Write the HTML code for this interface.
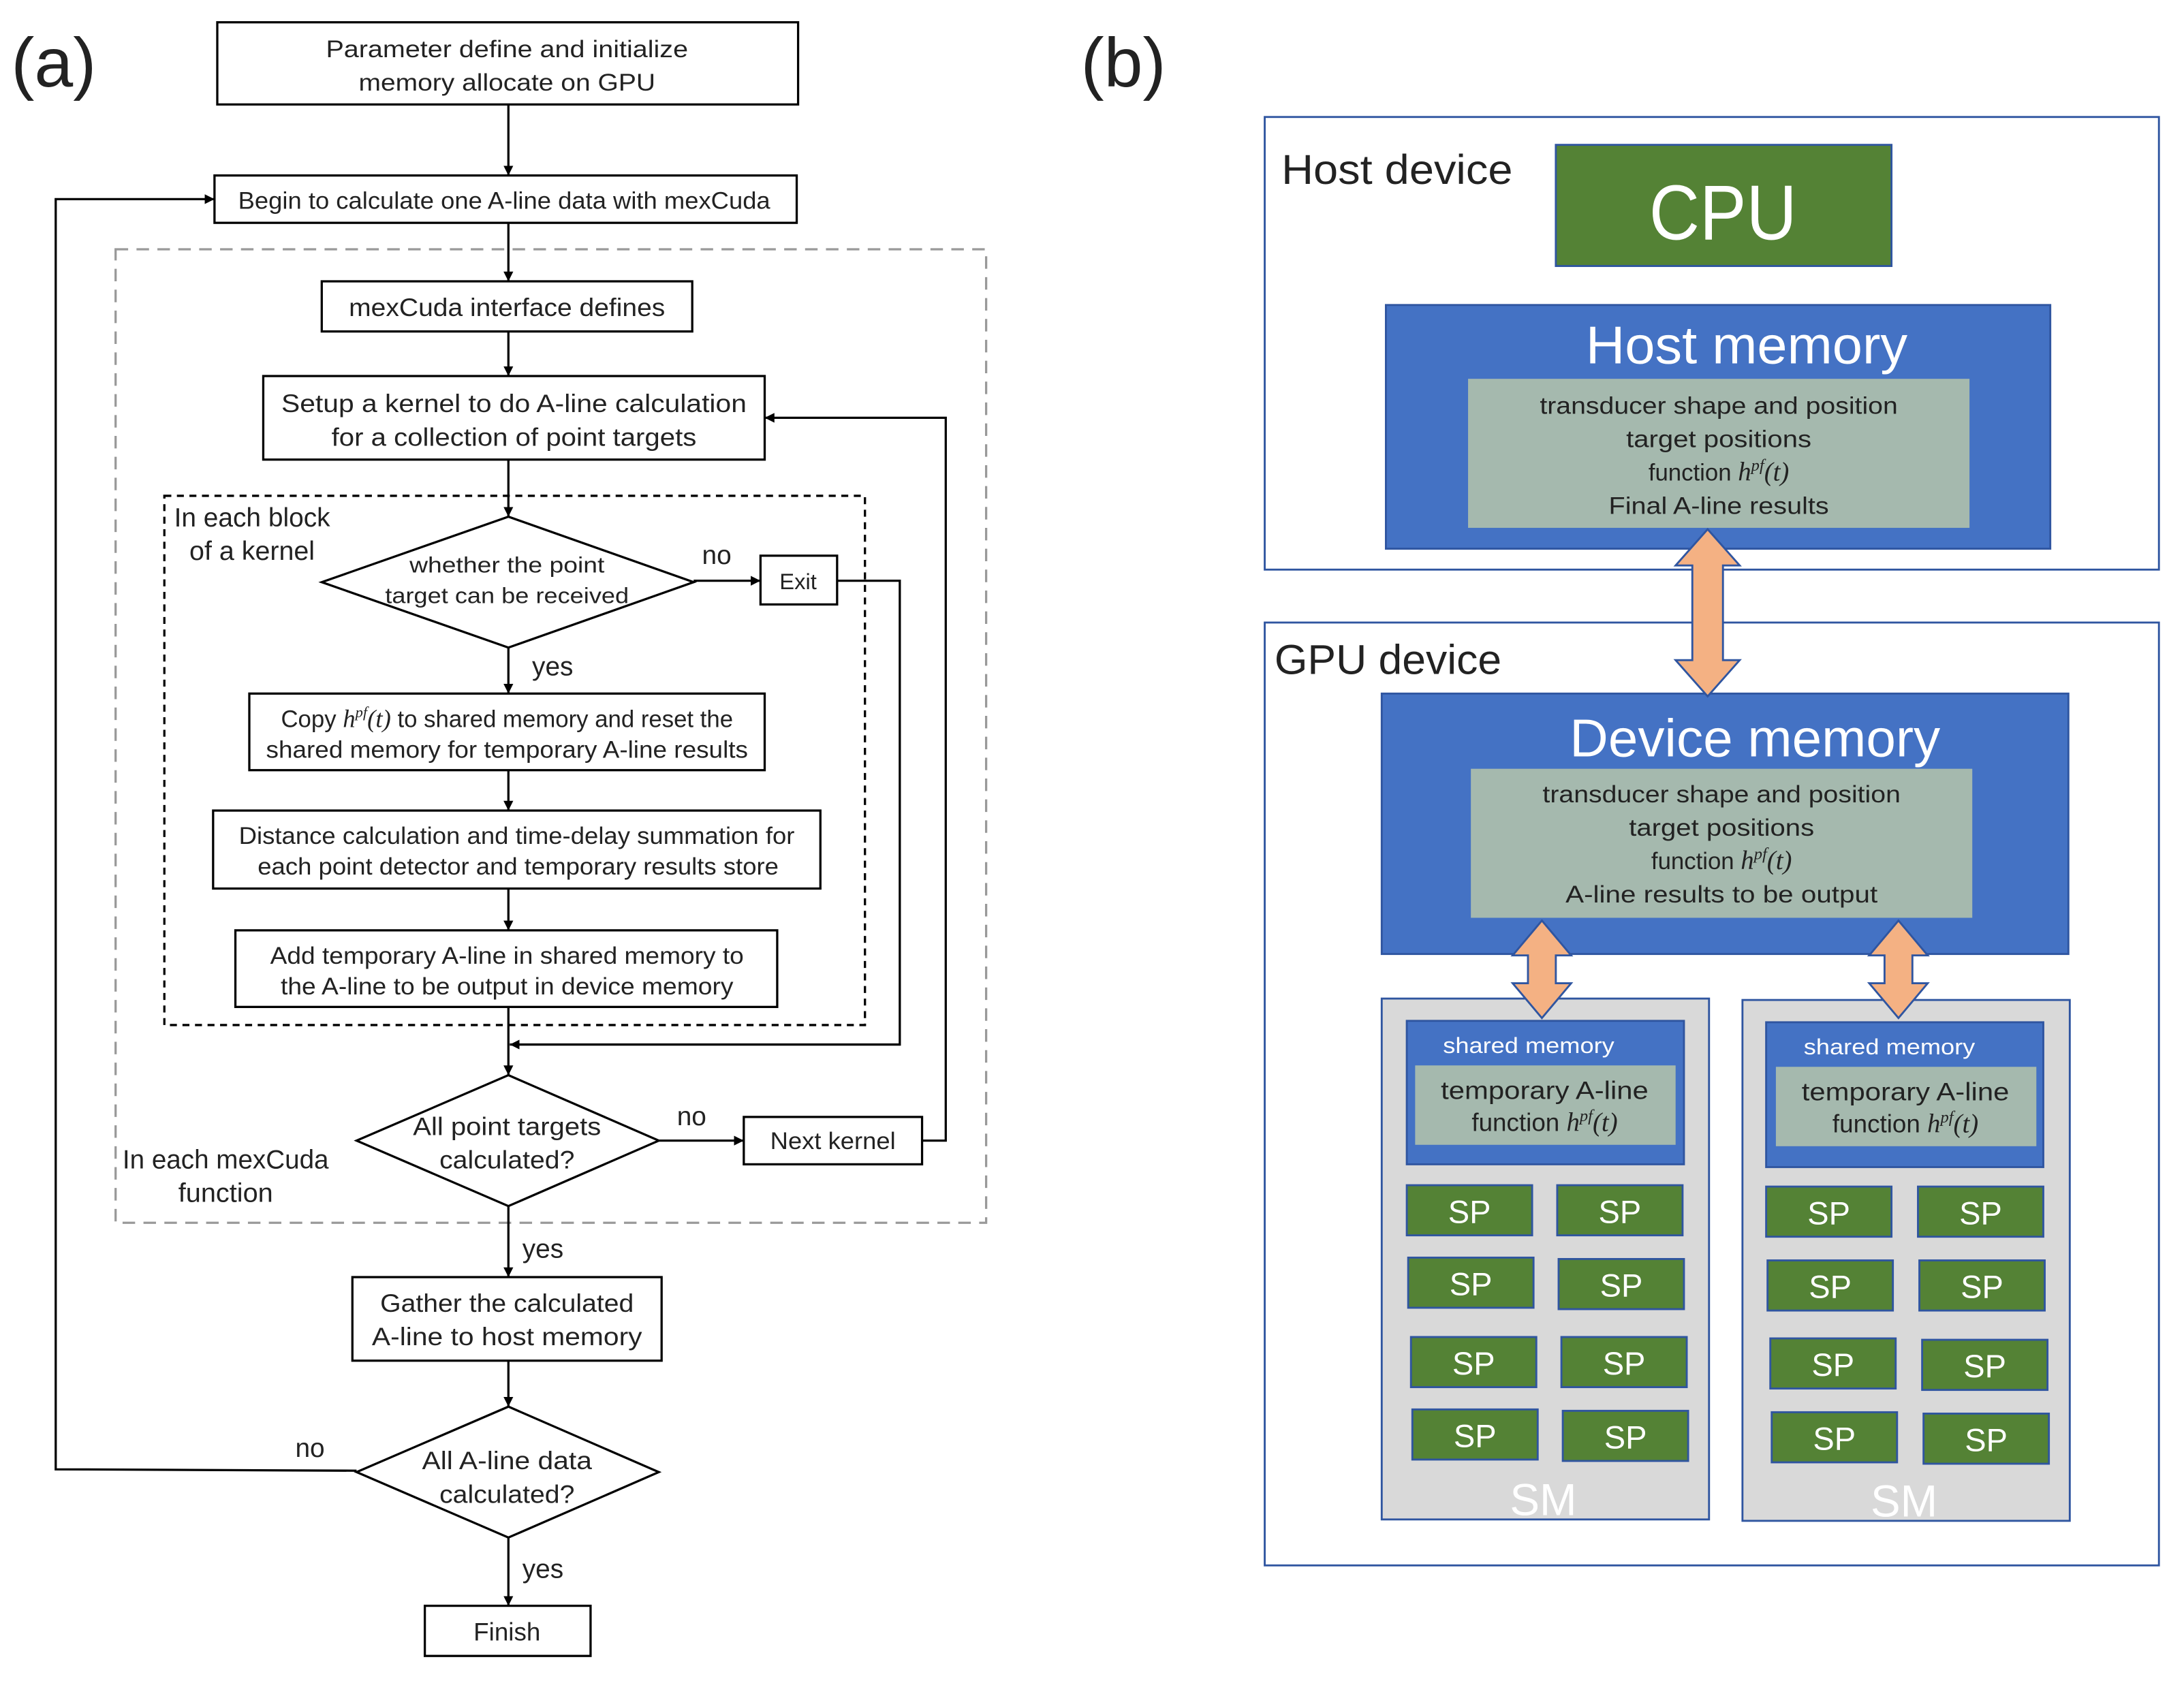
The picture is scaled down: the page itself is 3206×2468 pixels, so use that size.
<!DOCTYPE html>
<html><head><meta charset="utf-8"><style>
html,body{margin:0;padding:0;background:#fff;}
svg{display:block;}
text{font-family:"Liberation Sans",sans-serif;}
.t{font-size:17px;fill:#222;text-anchor:middle;}
.w{fill:#fff;text-anchor:middle;}
.m{font-family:"Liberation Serif",serif;font-style:italic;}
</style></head><body>
<svg width="3206" height="2468" viewBox="0 0 1568 1207" preserveAspectRatio="none" xmlns="http://www.w3.org/2000/svg">
<defs>
<marker id="a" viewBox="0 0 10 10" refX="10" refY="5" markerWidth="7" markerHeight="7" orient="auto" markerUnits="userSpaceOnUse"><path d="M0,0 L10,5 L0,10 z" fill="#000"/></marker>
</defs>
<rect width="1568" height="1207" fill="#fff"/>
<!-- (a) -->
<text x="8" y="62" font-size="50" fill="#222">(a)</text>
<g fill="none" stroke="#000" stroke-width="1.6">
<rect x="156" y="16" width="417" height="59"/>
<rect x="154" y="126" width="418" height="34"/>
<rect x="83" y="179" width="625" height="699" stroke="#999" stroke-dasharray="9,6"/>
<rect x="231" y="202" width="266" height="36"/>
<rect x="189" y="270" width="360" height="60"/>
<rect x="118" y="356" width="503" height="380" stroke-dasharray="5,4"/>
<polygon points="365,371 498,418 365,465 231,418"/>
<rect x="546" y="399" width="55" height="35"/>
<rect x="179" y="498" width="370" height="55"/>
<rect x="153" y="582" width="436" height="56"/>
<rect x="169" y="668" width="389" height="55"/>
<polygon points="365,772 473,819 365,866 256,819"/>
<rect x="534" y="802" width="128" height="34"/>
<rect x="253" y="917" width="222" height="60"/>
<polygon points="365,1010 473,1057 365,1104 256,1057"/>
<rect x="305" y="1153" width="119" height="36"/>
<g marker-end="url(#a)">
<line x1="365" y1="75" x2="365" y2="126"/>
<line x1="365" y1="160" x2="365" y2="202"/>
<line x1="365" y1="238" x2="365" y2="270"/>
<line x1="365" y1="330" x2="365" y2="371"/>
<line x1="498" y1="417" x2="546" y2="417"/>
<polyline points="601,417 646,417 646,750 366,750"/>
<line x1="365" y1="465" x2="365" y2="498"/>
<line x1="365" y1="553" x2="365" y2="582"/>
<line x1="365" y1="638" x2="365" y2="668"/>
<line x1="365" y1="723" x2="365" y2="772"/>
<line x1="473" y1="819" x2="534" y2="819"/>
<polyline points="662,819 679,819 679,300 549,300"/>
<line x1="365" y1="866" x2="365" y2="917"/>
<line x1="365" y1="977" x2="365" y2="1010"/>
<polyline points="256,1056 40,1055 40,143 154,143"/>
<line x1="365" y1="1104" x2="365" y2="1153"/>
</g>
</g>
<g class="t">
<text x="364" y="41" textLength="260" lengthAdjust="spacingAndGlyphs">Parameter define and initialize</text>
<text x="364" y="65" textLength="213" lengthAdjust="spacingAndGlyphs">memory allocate on GPU</text>
<text x="362" y="150" textLength="382" lengthAdjust="spacingAndGlyphs">Begin to calculate one A-line data with mexCuda</text>
<text x="364" y="227" font-size="18" textLength="227" lengthAdjust="spacingAndGlyphs">mexCuda interface defines</text>
<text x="369" y="296" font-size="18" textLength="334" lengthAdjust="spacingAndGlyphs">Setup a kernel  to do A-line calculation</text>
<text x="369" y="320" font-size="18" textLength="262" lengthAdjust="spacingAndGlyphs">for a collection of point targets</text>
<text x="364" y="411" font-size="16" textLength="140" lengthAdjust="spacingAndGlyphs">whether the point</text>
<text x="364" y="433" font-size="16" textLength="175" lengthAdjust="spacingAndGlyphs">target can be received</text>
<text x="573" y="423" font-size="16">Exit</text>
<text x="364" y="522">Copy <tspan class="m" font-size="18">h</tspan><tspan class="m" font-size="11" dy="-7">pf</tspan><tspan class="m" font-size="18" dy="7">(t)</tspan> to shared memory and reset the</text>
<text x="364" y="544" textLength="346" lengthAdjust="spacingAndGlyphs">shared memory for temporary A-line results</text>
<text x="371" y="606" textLength="399" lengthAdjust="spacingAndGlyphs">Distance calculation and time-delay summation for</text>
<text x="372" y="628" textLength="374" lengthAdjust="spacingAndGlyphs">each point detector and temporary results store</text>
<text x="364" y="692" textLength="340" lengthAdjust="spacingAndGlyphs">Add temporary A-line in shared memory to</text>
<text x="364" y="714" textLength="325" lengthAdjust="spacingAndGlyphs">the A-line to be output in device memory</text>
<text x="364" y="815" font-size="18" textLength="135" lengthAdjust="spacingAndGlyphs">All point targets</text>
<text x="364" y="839" font-size="18" textLength="97" lengthAdjust="spacingAndGlyphs">calculated?</text>
<text x="598" y="825" textLength="90" lengthAdjust="spacingAndGlyphs">Next kernel</text>
<text x="364" y="942" font-size="18" textLength="182" lengthAdjust="spacingAndGlyphs">Gather the calculated</text>
<text x="364" y="966" font-size="18" textLength="194" lengthAdjust="spacingAndGlyphs">A-line to host memory</text>
<text x="364" y="1055" font-size="18" textLength="122" lengthAdjust="spacingAndGlyphs">All A-line data</text>
<text x="364" y="1079" font-size="18" textLength="97" lengthAdjust="spacingAndGlyphs">calculated?</text>
<text x="364" y="1178" font-size="18">Finish</text>
</g>
<g font-size="19" fill="#222">
<text x="125" y="378" textLength="112" lengthAdjust="spacingAndGlyphs">In each block</text>
<text x="136" y="402" textLength="90" lengthAdjust="spacingAndGlyphs">of a kernel</text>
<text x="504" y="405">no</text>
<text x="382" y="485">yes</text>
<text x="486" y="808">no</text>
<text x="88" y="839" textLength="148" lengthAdjust="spacingAndGlyphs">In each mexCuda</text>
<text x="128" y="863" textLength="68" lengthAdjust="spacingAndGlyphs">function</text>
<text x="375" y="903">yes</text>
<text x="212" y="1046">no</text>
<text x="375" y="1133">yes</text>
</g>
<!-- (b) -->
<text x="776" y="62" font-size="50" fill="#222">(b)</text>
<g stroke="#2f55a0" stroke-width="1.4">
<rect x="908" y="84" width="642" height="325" fill="#fff"/>
<rect x="908" y="447" width="642" height="677" fill="#fff"/>
<rect x="1117" y="104" width="241" height="87" fill="#548235"/>
<rect x="995" y="219" width="477" height="175" fill="#4472c4"/>
<rect x="1054" y="272" width="360" height="107" fill="#a5b9ae" stroke="none"/>
<rect x="992" y="498" width="493" height="187" fill="#4472c4"/>
<rect x="1056" y="552" width="360" height="107" fill="#a5b9ae" stroke="none"/>
<rect x="992" y="717" width="235" height="374" fill="#d9d9d9"/>
<rect x="1251" y="718" width="235" height="374" fill="#d9d9d9"/>
<rect x="1010" y="733" width="199" height="103" fill="#4472c4"/>
<rect x="1016" y="765" width="187" height="57" fill="#a5b9ae" stroke="none"/>
<rect x="1268" y="734" width="199" height="104" fill="#4472c4"/>
<rect x="1275" y="766" width="187" height="57" fill="#a5b9ae" stroke="none"/>
<g fill="#548235">
<rect x="1010" y="851" width="90" height="36"/><rect x="1118" y="851" width="90" height="36"/>
<rect x="1011" y="903" width="90" height="36"/><rect x="1119" y="904" width="90" height="36"/>
<rect x="1013" y="960" width="90" height="36"/><rect x="1121" y="960" width="90" height="36"/>
<rect x="1014" y="1012" width="90" height="36"/><rect x="1122" y="1013" width="90" height="36"/>
<rect x="1268" y="852" width="90" height="36"/><rect x="1377" y="852" width="90" height="36"/>
<rect x="1269" y="905" width="90" height="36"/><rect x="1378" y="905" width="90" height="36"/>
<rect x="1271" y="961" width="90" height="36"/><rect x="1380" y="962" width="90" height="36"/>
<rect x="1272" y="1014" width="90" height="36"/><rect x="1381" y="1015" width="90" height="36"/>
</g>
<g fill="#f4b183">
<polygon points="1226,380 1249,406 1237,406 1237,474 1249,474 1226,500 1203,474 1215,474 1215,406 1203,406"/>
<polygon points="1107,661 1128,686 1117,686 1117,706 1128,706 1107,731 1086,706 1097,706 1097,686 1086,686"/>
<polygon points="1363,661 1384,686 1373,686 1373,706 1384,706 1363,731 1342,706 1353,706 1353,686 1342,686"/>
</g>
</g>
<g fill="#222" font-size="30">
<text x="920" y="132" textLength="166" lengthAdjust="spacingAndGlyphs">Host device</text>
<text x="915" y="484" textLength="163" lengthAdjust="spacingAndGlyphs">GPU device</text>
</g>
<text class="w" x="1237" y="172" font-size="56" textLength="106" lengthAdjust="spacingAndGlyphs">CPU</text>
<text class="w" x="1254" y="261" font-size="38" textLength="231" lengthAdjust="spacingAndGlyphs">Host memory</text>
<text class="w" x="1260" y="543" font-size="38" textLength="266" lengthAdjust="spacingAndGlyphs">Device memory</text>
<g class="t">
<text x="1234" y="297" textLength="257" lengthAdjust="spacingAndGlyphs">transducer shape and position</text>
<text x="1234" y="321" textLength="133" lengthAdjust="spacingAndGlyphs">target positions</text>
<text x="1234" y="345">function <tspan class="m" font-size="19">h</tspan><tspan class="m" font-size="12" dy="-7">pf</tspan><tspan class="m" font-size="19" dy="7">(t)</tspan></text>
<text x="1234" y="369" textLength="158" lengthAdjust="spacingAndGlyphs">Final A-line results</text>
<text x="1236" y="576" textLength="257" lengthAdjust="spacingAndGlyphs">transducer shape and position</text>
<text x="1236" y="600" textLength="133" lengthAdjust="spacingAndGlyphs">target positions</text>
<text x="1236" y="624">function <tspan class="m" font-size="19">h</tspan><tspan class="m" font-size="12" dy="-7">pf</tspan><tspan class="m" font-size="19" dy="7">(t)</tspan></text>
<text x="1236" y="648" textLength="224" lengthAdjust="spacingAndGlyphs">A-line results to be output</text>
<text x="1109" y="789" font-size="18" textLength="149" lengthAdjust="spacingAndGlyphs">temporary A-line</text>
<text x="1109" y="812" font-size="18">function <tspan class="m" font-size="19">h</tspan><tspan class="m" font-size="12" dy="-7">pf</tspan><tspan class="m" font-size="19" dy="7">(t)</tspan></text>
<text x="1368" y="790" font-size="18" textLength="149" lengthAdjust="spacingAndGlyphs">temporary A-line</text>
<text x="1368" y="813" font-size="18">function <tspan class="m" font-size="19">h</tspan><tspan class="m" font-size="12" dy="-7">pf</tspan><tspan class="m" font-size="19" dy="7">(t)</tspan></text>
</g>
<g fill="#fff" font-size="16">
<text x="1036" y="756" textLength="123" lengthAdjust="spacingAndGlyphs">shared memory</text>
<text x="1295" y="757" textLength="123" lengthAdjust="spacingAndGlyphs">shared memory</text>
</g>
<g class="w" font-size="23">
<text x="1055" y="878">SP</text><text x="1163" y="878">SP</text>
<text x="1056" y="930">SP</text><text x="1164" y="931">SP</text>
<text x="1058" y="987">SP</text><text x="1166" y="987">SP</text>
<text x="1059" y="1039">SP</text><text x="1167" y="1040">SP</text>
<text x="1313" y="879">SP</text><text x="1422" y="879">SP</text>
<text x="1314" y="932">SP</text><text x="1423" y="932">SP</text>
<text x="1316" y="988">SP</text><text x="1425" y="989">SP</text>
<text x="1317" y="1041">SP</text><text x="1426" y="1042">SP</text>
</g>
<g class="w" font-size="32" fill="#f4f4f4">
<text x="1108" y="1088">SM</text>
<text x="1367" y="1089">SM</text>
</g>
</svg>
</body></html>
